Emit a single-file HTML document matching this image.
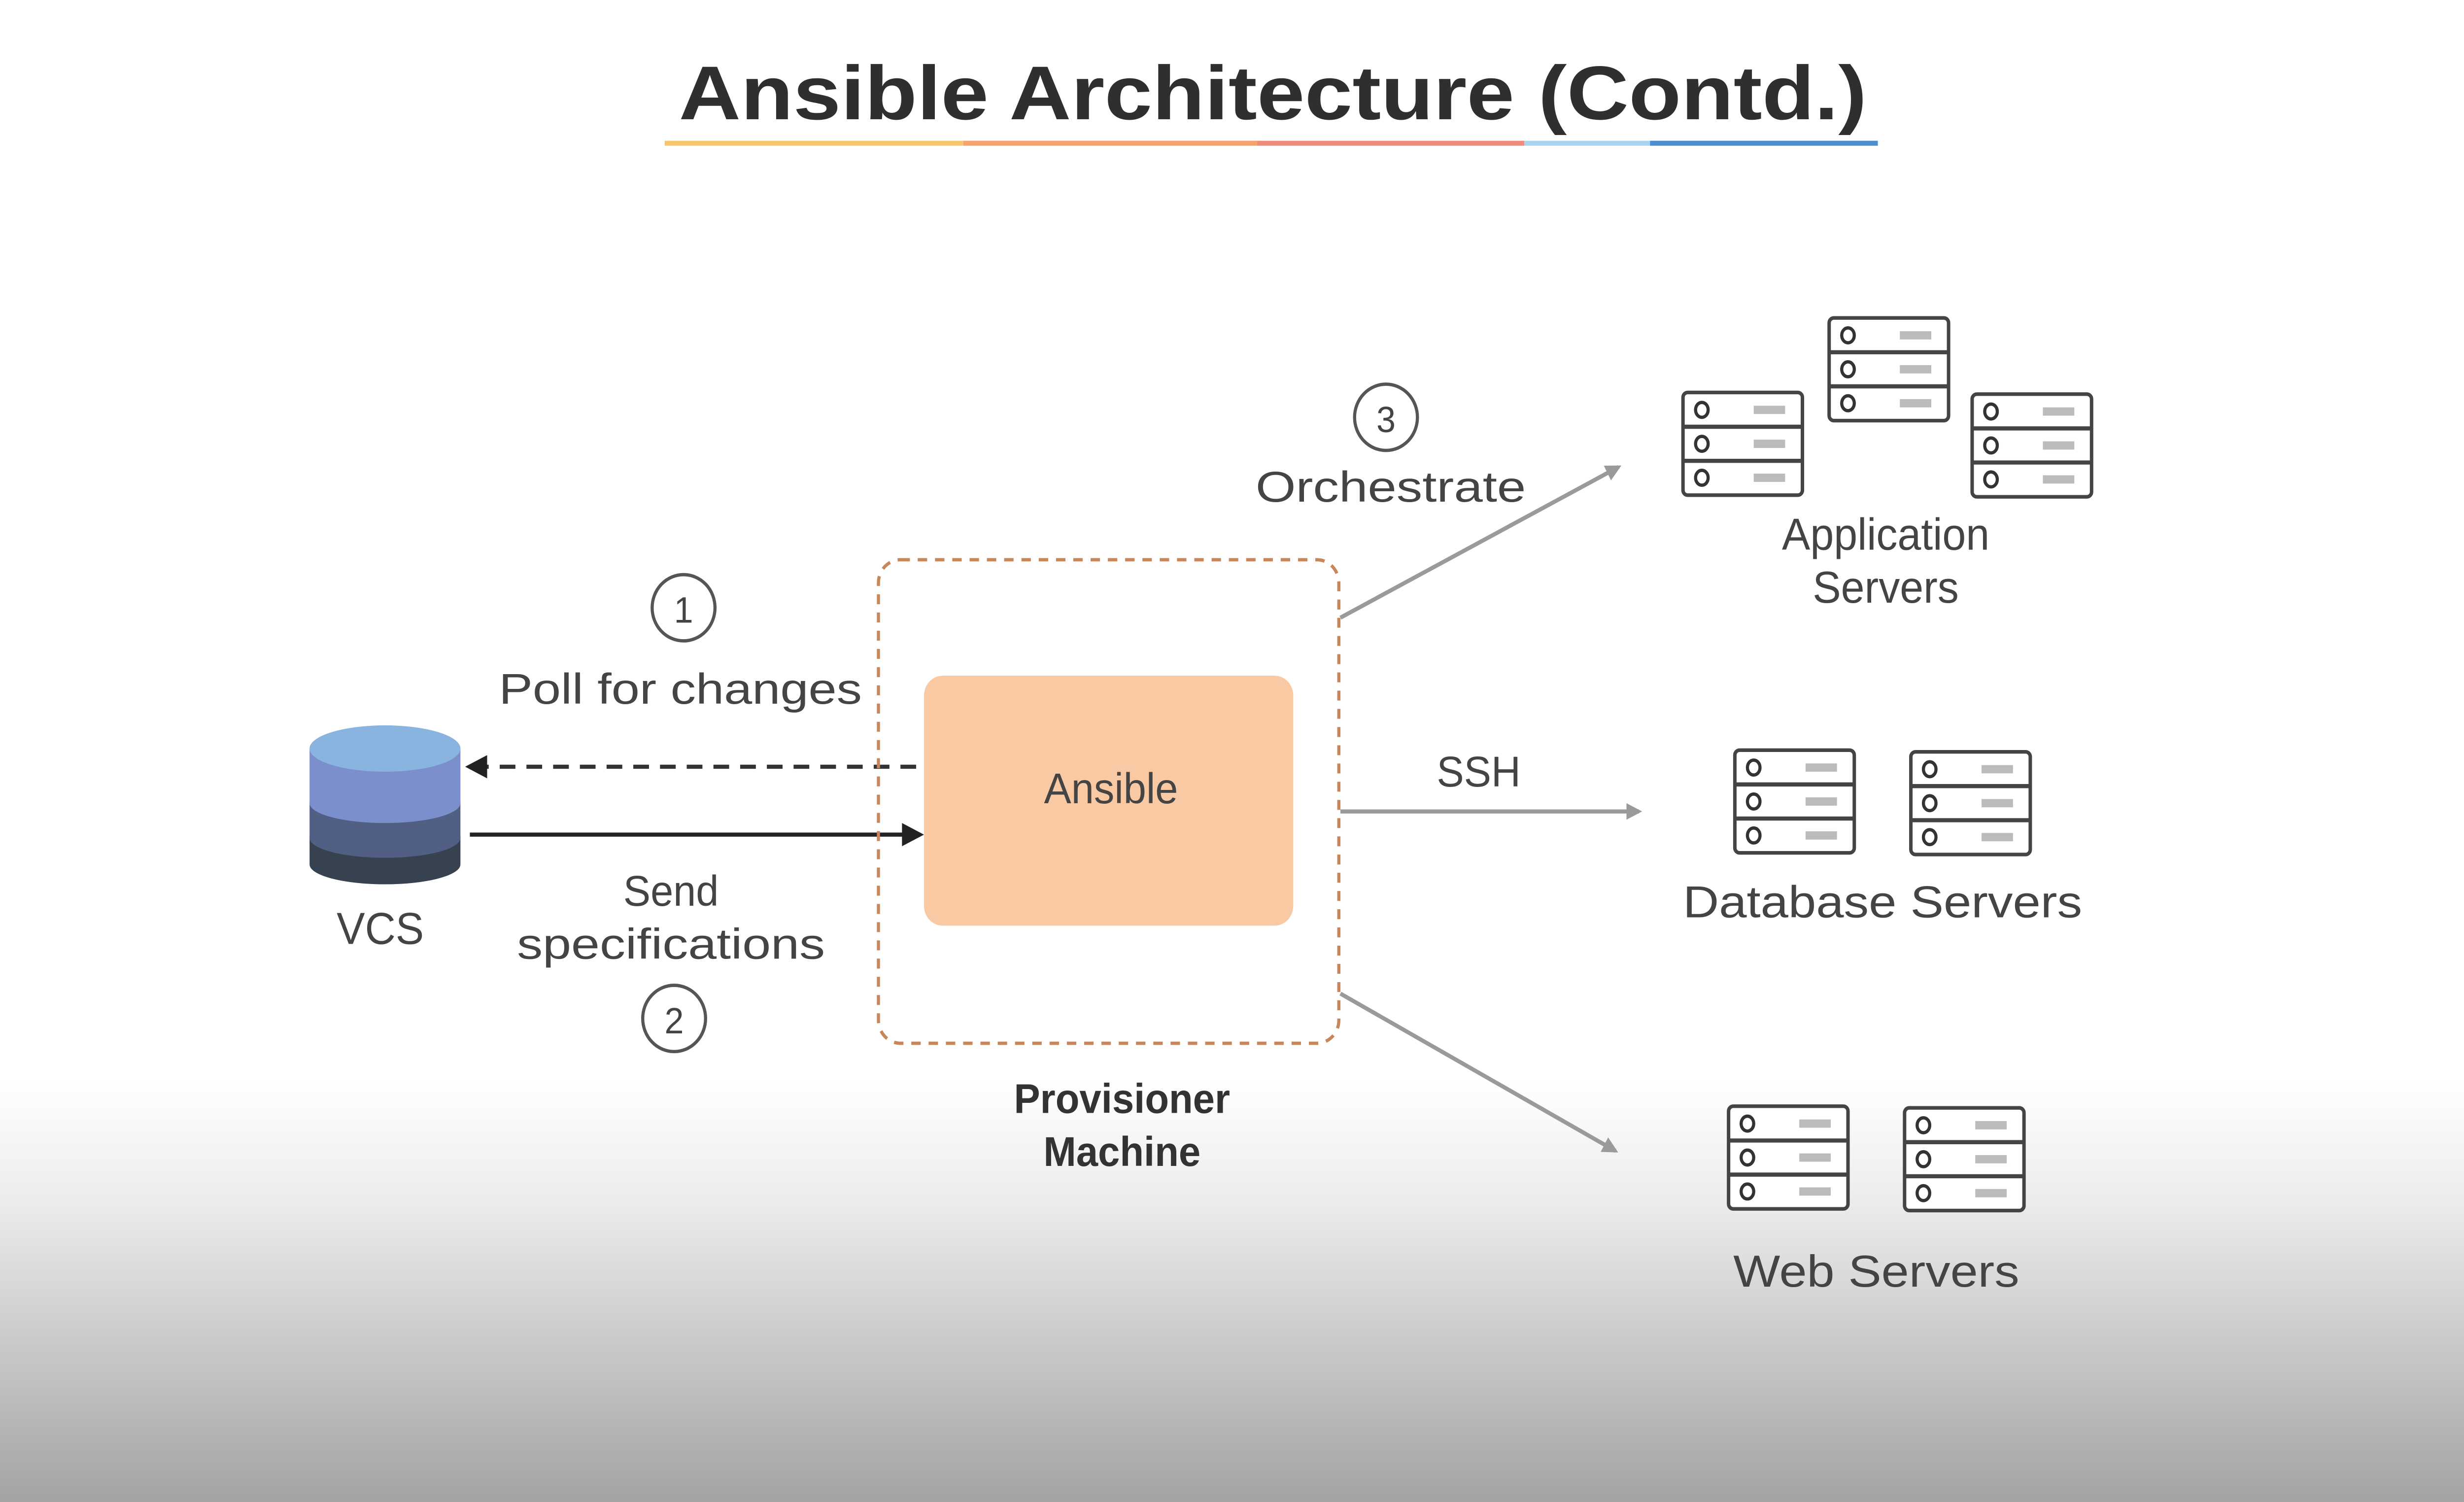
<!DOCTYPE html>
<html><head><meta charset="utf-8"><style>
html,body{margin:0;padding:0;width:5000px;height:3048px;overflow:hidden;background:#fff;position:relative}
svg{display:block;position:absolute;left:0;top:0;width:5000px;height:3048px;overflow:hidden}
text{font-family:"Liberation Sans",sans-serif;fill:#444}
</style></head><body>
<svg width="5000" height="3048" viewBox="0 0 1568 907" preserveAspectRatio="none" xmlns="http://www.w3.org/2000/svg">
<defs>
<linearGradient id="bg" x1="0" y1="0" x2="0" y2="1">
<stop offset="0" stop-color="#ffffff"/><stop offset="0.72" stop-color="#ffffff"/><stop offset="0.8" stop-color="#ececec"/><stop offset="1" stop-color="#a3a3a3"/>
</linearGradient>
<g id="srv">
<rect x="1" y="1" width="76" height="62" rx="3" fill="#fff" stroke="#444" stroke-width="2.2"/>
<line x1="1" y1="21.7" x2="77" y2="21.7" stroke="#444" stroke-width="2.5"/>
<line x1="1" y1="42.3" x2="77" y2="42.3" stroke="#444" stroke-width="2.5"/>
<ellipse cx="13" cy="11.5" rx="4" ry="4.5" fill="none" stroke="#333" stroke-width="2"/>
<ellipse cx="13" cy="32" rx="4" ry="4.5" fill="none" stroke="#333" stroke-width="2"/>
<ellipse cx="13" cy="52.5" rx="4" ry="4.5" fill="none" stroke="#333" stroke-width="2"/>
<rect x="46" y="9" width="20" height="5" fill="#bbb"/>
<rect x="46" y="29.5" width="20" height="5" fill="#bbb"/>
<rect x="46" y="50" width="20" height="5" fill="#bbb"/>
</g>
<marker id="ah" markerWidth="10" markerHeight="10" refX="8" refY="5" orient="auto" markerUnits="userSpaceOnUse"><path d="M0,0 L10,5 L0,10 z" fill="#9a9a9a"/></marker>
</defs>
<rect x="0" y="0" width="1568" height="907" fill="url(#bg)"/>

<text x="810" y="72" text-anchor="middle" font-size="46" font-weight="bold" style="fill:#2f2f2f" textLength="756" lengthAdjust="spacingAndGlyphs">Ansible Architecture (Contd.)</text>
<rect x="423" y="85" width="190" height="3" fill="#f7c56b"/>
<rect x="613" y="85" width="187" height="3" fill="#f5a36a"/>
<rect x="800" y="85" width="170" height="3" fill="#ef8c78"/>
<rect x="970" y="85" width="80" height="3" fill="#a9d3ef"/>
<rect x="1050" y="85" width="145" height="3" fill="#4a8fd0"/>

<path d="M197,505 L197,522 A48,12 0 0 0 293,522 L293,505 Z" fill="#36424f"/>
<path d="M197,484 L197,506 A48,12 0 0 0 293,506 L293,484 Z" fill="#525f85"/>
<path d="M197,452 L197,485 A48,12 0 0 0 293,485 L293,452 Z" fill="#7b8fcc"/>
<ellipse cx="245" cy="452" rx="48" ry="14" fill="#8ab4e0"/>
<text x="242" y="570" text-anchor="middle" font-size="27">VCS</text>

<line x1="583" y1="463" x2="308" y2="463" stroke="#333" stroke-width="2.5" stroke-dasharray="10,7"/>
<path d="M296,463 L310,456 L310,470 z" fill="#222"/>
<line x1="299" y1="504" x2="576" y2="504" stroke="#222" stroke-width="2.5"/>
<path d="M588,504 L574,497 L574,511 z" fill="#222"/>

<circle cx="435" cy="367" r="20" fill="none" stroke="#555" stroke-width="2"/>
<text x="435" y="376" text-anchor="middle" font-size="22">1</text>
<text x="433" y="425" text-anchor="middle" font-size="26" textLength="231" lengthAdjust="spacingAndGlyphs">Poll for changes</text>
<text x="427" y="547" text-anchor="middle" font-size="26">Send</text>
<text x="427" y="579" text-anchor="middle" font-size="26" textLength="196" lengthAdjust="spacingAndGlyphs">specifications</text>
<circle cx="429" cy="615" r="20" fill="none" stroke="#555" stroke-width="2"/>
<text x="429" y="624" text-anchor="middle" font-size="22">2</text>

<rect x="559" y="338" width="293" height="292" rx="14" fill="none" stroke="#c8875a" stroke-width="2" stroke-dasharray="6,5"/>
<rect x="588" y="408" width="235" height="151" rx="12" fill="#f9c9a4"/>
<text x="707" y="485" text-anchor="middle" font-size="26">Ansible</text>
<text x="714" y="672" text-anchor="middle" font-size="25" font-weight="bold" style="fill:#333">Provisioner</text>
<text x="714" y="704" text-anchor="middle" font-size="25" font-weight="bold" style="fill:#333">Machine</text>

<line x1="853" y1="373" x2="1030" y2="282" stroke="#9a9a9a" stroke-width="2.5" marker-end="url(#ah)"/>
<line x1="853" y1="490" x2="1043" y2="490" stroke="#9a9a9a" stroke-width="2.5" marker-end="url(#ah)"/>
<line x1="853" y1="600" x2="1028" y2="695" stroke="#9a9a9a" stroke-width="2.5" marker-end="url(#ah)"/>
<circle cx="882" cy="252" r="20" fill="none" stroke="#555" stroke-width="2"/>
<text x="882" y="261" text-anchor="middle" font-size="22">3</text>
<text x="885" y="303" text-anchor="middle" font-size="26" textLength="172" lengthAdjust="spacingAndGlyphs">Orchestrate</text>
<text x="941" y="475" text-anchor="middle" font-size="26">SSH</text>

<use href="#srv" x="1070" y="236"/>
<use href="#srv" x="1163" y="191"/>
<use href="#srv" x="1254" y="237"/>
<text x="1200" y="332" text-anchor="middle" font-size="27">Application</text>
<text x="1200" y="364" text-anchor="middle" font-size="27">Servers</text>
<use href="#srv" x="1103" y="452"/>
<use href="#srv" x="1215" y="453"/>
<text x="1198" y="554" text-anchor="middle" font-size="27" textLength="254" lengthAdjust="spacingAndGlyphs">Database Servers</text>
<use href="#srv" x="1099" y="667"/>
<use href="#srv" x="1211" y="668"/>
<text x="1194" y="777" text-anchor="middle" font-size="27" textLength="182" lengthAdjust="spacingAndGlyphs">Web Servers</text>
</svg>
</body></html>
